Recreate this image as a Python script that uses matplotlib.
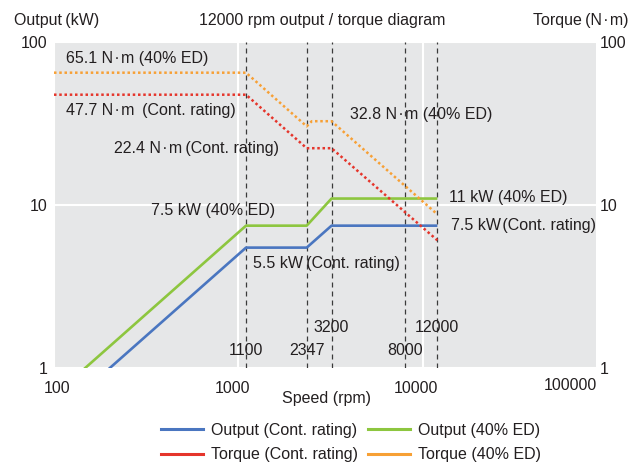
import matplotlib
matplotlib.use("Agg")
import matplotlib.pyplot as plt
import matplotlib.transforms as mtransforms
from matplotlib.lines import Line2D

plt.rcParams['font.family'] = ['Liberation Sans', 'DejaVu Sans']

# ---------------- data ----------------
speed_out = [100, 1100, 2347, 3200, 12000]
output_cont = [0.5, 5.5, 5.5, 7.5, 7.5]
output_40ed = [0.68, 7.5, 7.5, 11, 11]

speed_tq_cont = [100, 1100, 2347, 3200, 12000]
torque_cont = [47.7, 47.7, 22.4, 22.4, 6.1]
speed_tq_40ed = [100, 1100, 2347, 2500, 3200, 12000]
torque_40ed = [65.1, 65.1, 30.5, 32.8, 32.8, 8.8]

marker_speeds = [1100, 2347, 3200, 8000, 12000]
marker_labels = ['1100', '2347', '3200', '8000', '12000']

x_ticks = [100, 1000, 10000]
x_ticklabels = ['100', '1000', '10000']
x_last_label = '100000'
y_ticks = [1, 10, 100]
y_ticklabels = ['1', '10', '100']

series_names = ['Output (Cont. rating)', 'Output (40% ED)',
                'Torque (Cont. rating)', 'Torque (40% ED)']

# ---------------- style ----------------
C_BLUE = '#4a76c0'
C_GREEN = '#8dc63f'
C_RED = '#e5352b'
C_ORANGE = '#f7a035'
BG = '#e6e7e8'
TXT = '#231f20'
FS = 11.5
HS = '\u200a'   # hair space
TS = '\u2009'   # thin space
NM = 'N' + HS + '·' + HS + 'm'

W, H = 631, 467
fig = plt.figure(figsize=(W / 100, H / 100), dpi=100)
L, R, T, B = 54, 596, 42.3, 368.3
ax = fig.add_axes([L / W, 1 - B / H, (R - L) / W, (B - T) / H])
ax.set_facecolor(BG)
ax.set_xscale('log')
ax.set_yscale('log')
ax.set_xlim(100, 87000)
ax.set_ylim(1, 100)
for s in ax.spines.values():
    s.set_visible(False)

ax.set_xticks(x_ticks)
ax.set_xticklabels(x_ticklabels)
ax.set_yticks(y_ticks)
ax.set_yticklabels(y_ticklabels)
ax.xaxis.set_minor_locator(matplotlib.ticker.NullLocator())
ax.yaxis.set_minor_locator(matplotlib.ticker.NullLocator())
ax.tick_params(axis='both', length=0, labelsize=FS, colors=TXT)
ax.tick_params(axis='x', pad=9)
ax.tick_params(axis='y', pad=4.5)
ax.grid(True, which='major', color='white', linewidth=1.5)
ax.set_axisbelow(True)

# shift x tick labels slightly like the reference
offs = [2.7, -6, -6.7]
for lab, dx in zip(ax.get_xticklabels(), offs):
    lab.set_transform(lab.get_transform() + mtransforms.ScaledTranslation(dx / 100, 0, fig.dpi_scale_trans))
ax.annotate(x_last_label, xy=(1, 0), xycoords='axes fraction', xytext=(0.7, -10),
            textcoords='offset pixels', ha='right', va='top', fontsize=FS, color=TXT)

# vertical dashed lines
for sp in marker_speeds:
    ax.axvline(sp, color='#3a3a3a', linewidth=0.9, linestyle=(0, (4, 3.2)), zorder=2)

# output lines
ax.plot(speed_out, output_cont, color=C_BLUE, linewidth=1.9, zorder=3, solid_capstyle='butt')
ax.plot(speed_out, output_40ed, color=C_GREEN, linewidth=1.9, zorder=3, solid_capstyle='butt')

# torque axis
ax2 = ax.twinx()
ax2.set_yscale('log')
ax2.set_ylim(1, 100)
ax2.set_yticks(y_ticks)
ax2.set_yticklabels(y_ticklabels)
ax2.yaxis.set_minor_locator(matplotlib.ticker.NullLocator())
ax2.tick_params(axis='y', length=0, labelsize=FS, colors=TXT, pad=3)
for s in ax2.spines.values():
    s.set_visible(False)
ax2.plot(speed_tq_cont, torque_cont, color=C_RED, linewidth=1.8, linestyle=(0, (1, 1.1)), zorder=3)
ax2.plot(speed_tq_40ed, torque_40ed, color=C_ORANGE, linewidth=1.8, linestyle=(0, (1, 1.1)), zorder=3)

# speed labels
for sp, lab in zip(marker_speeds, marker_labels):
    yv = 1.79 if lab in ('3200', '12000') else 1.28
    ax.text(sp, yv, lab, ha='center', va='center', fontsize=FS, color=TXT, zorder=4)

# annotations (pixel positions -> axes fraction)
def ann(px, py, s, ha='left'):
    ax.text((px - L) / (R - L), (B - py) / (B - T), s, transform=ax.transAxes,
            ha=ha, va='center', fontsize=FS, color=TXT, zorder=5)

ann(66, 59, '65.1 ' + NM + ' (40% ED)')
ann(66, 110.7, '47.7 ' + NM + ' ' + TS + '(Cont. rating)')
ann(114, 148, '22.4 ' + NM + TS + '(Cont. rating)')
ann(350, 115, '32.8 ' + NM + ' (40% ED)')
ann(150.7, 210, '7.5 kW (40% ED)')
ann(449, 197.7, '11 kW (40% ED)')
ann(450.7, 225.7, '7.5 kW' + HS + '(Cont. rating)')
ann(253, 263.3, '5.5 kW' + TS + '(Cont. rating)')

# titles
fig.text(14 / W, 1 - 20 / H, 'Output' + TS + '(kW)', ha='left', va='center', fontsize=FS, color=TXT)
fig.text(322 / W, 1 - 20 / H, '12000 rpm output / torque diagram', ha='center', va='center', fontsize=FS, color=TXT)
fig.text(628.5 / W, 1 - 20 / H, 'Torque' + TS + '(' + NM + ')', ha='right', va='center', fontsize=FS, color=TXT)
fig.text(327 / W, 1 - 399 / H, 'Speed (rpm)', ha='center', va='center', fontsize=FS, color=TXT)

# legend (row-wise order: column 1 = Cont. rating, column 2 = 40% ED)
colors = [C_BLUE, C_GREEN, C_RED, C_ORANGE]
order = [0, 2, 1, 3]
handles = [Line2D([], [], color=colors[i], linewidth=2.2) for i in order]
labels = [series_names[i] for i in order]
leg = fig.legend(handles, labels, ncol=2, loc='center', bbox_to_anchor=(351 / W, 1 - 442.5 / H),
                 frameon=False, fontsize=FS, handlelength=2.6, handletextpad=0.5,
                 columnspacing=0.66, labelspacing=0.6, borderpad=0)
for t in leg.get_texts():
    t.set_color(TXT)

fig.savefig('out.png', dpi=100)
